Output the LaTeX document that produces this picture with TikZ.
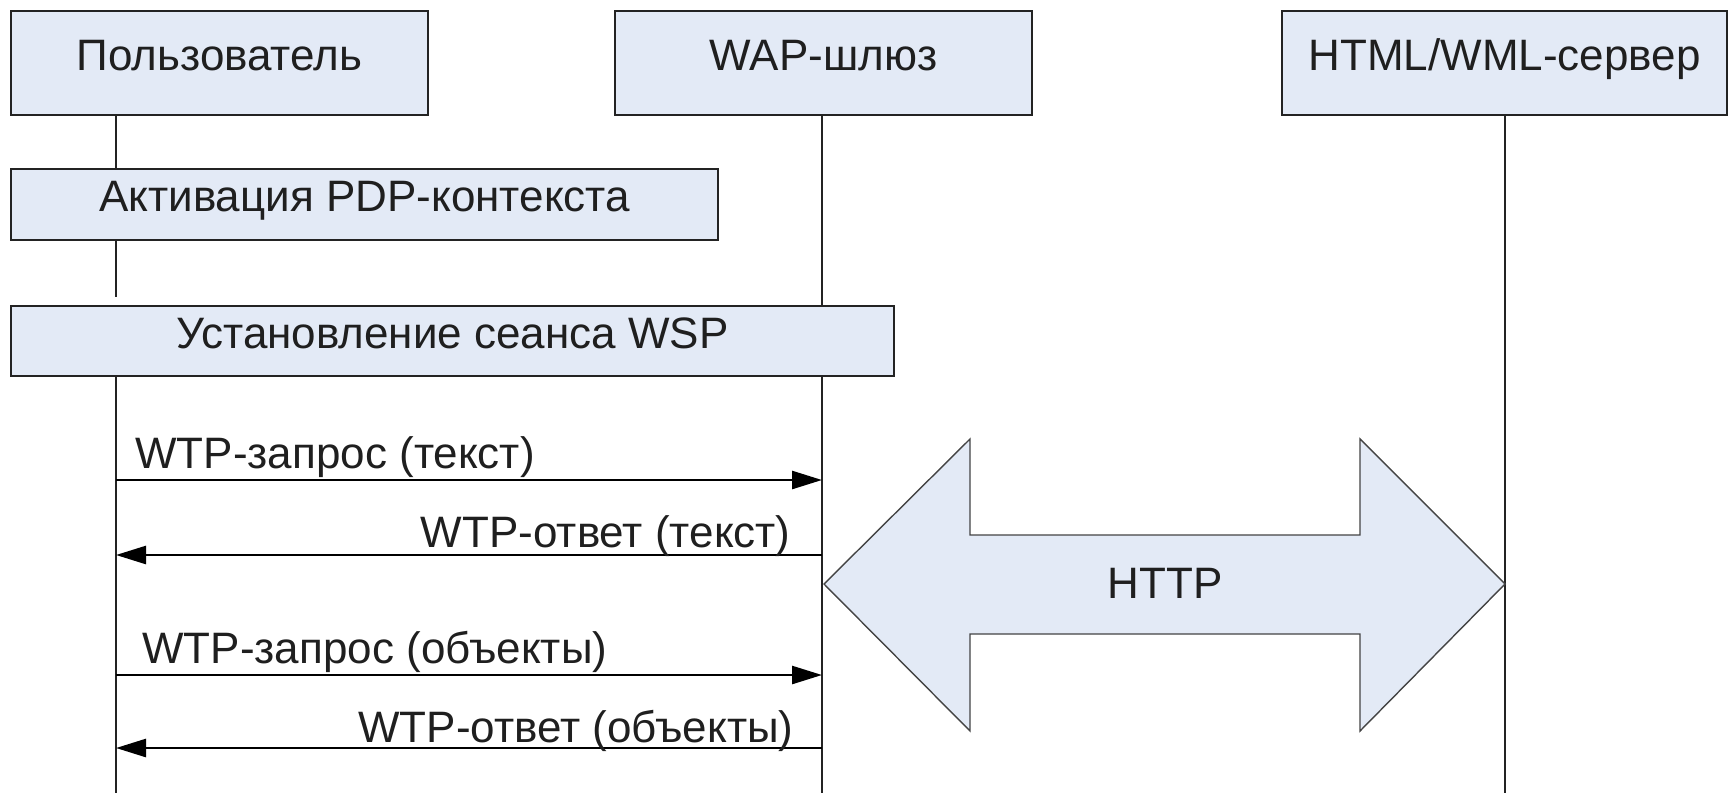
\documentclass[tikz,border=0pt]{standalone}
\usepackage{fontspec}
\setmainfont{Liberation Sans}
\usetikzlibrary{arrows.meta}
\definecolor{boxfill}{RGB}{227,234,246}
\definecolor{edge}{RGB}{35,35,35}
\begin{document}
\begin{tikzpicture}[x=0.5pt,y=-0.5pt,
  every node/.style={font=\fontsize{22}{26}\selectfont, text=black!88},
  actor/.style={draw=edge, line width=1.2pt, fill=boxfill, minimum height=52pt,
    inner sep=0pt, text height=0.72em, text depth=0pt},
  phase/.style={actor, minimum height=35pt},
  life/.style={draw=edge, line width=1pt},
  msg/.style={draw=black, line width=1.3pt, -{Triangle[length=15pt,width=9pt]}},
  lbl/.style={inner sep=0pt},
  bigarrow/.style={draw=edge!85, line width=0.7pt, fill=boxfill}
]
\useasboundingbox (0,0) rectangle (1729,793);

% participants
\node[actor, minimum width=208.5pt] (user) at (219.5,63) {Пользователь};
\node[actor, minimum width=208.5pt] (wap)  at (823.5,63) {WAP-шлюз};
\node[actor, minimum width=222.5pt] (srv)  at (1504.5,63) {HTML/WML-сервер};

% phases
\node[phase, minimum width=353.5pt, minimum height=35.5pt] (pdp) at (364.5,204.5) {Активация PDP-контекста};
\node[phase, minimum width=441.5pt] (wsp) at (452.5,341) {Установление сеанса WSP};

% lifeline positions
\coordinate (uX) at (116,0);
\coordinate (wX) at (822,0);
\coordinate (uGap) at (116,297);
\coordinate (uEnd) at (116,793);
\coordinate (wEnd) at (822,793);
\coordinate (sEnd) at (1505,793);

\draw[life] (user.south -| uX) -- (pdp.north -| uX);
\draw[life] (pdp.south -| uX) -- (uGap);
\draw[life] (wsp.south -| uX) -- (uEnd);
\draw[life] (wap.south -| wX) -- (wsp.north -| wX);
\draw[life] (wsp.south -| wX) -- (wEnd);
\draw[life] (srv.south -| sEnd) -- (sEnd);

% messages
\coordinate (m1u) at (116,480); \coordinate (m1w) at (822,480);
\coordinate (m2u) at (116,555); \coordinate (m2w) at (822,555);
\coordinate (m3u) at (116,675); \coordinate (m3w) at (822,675);
\coordinate (m4u) at (116,748); \coordinate (m4w) at (822,748);

\draw[msg] (m1u) -- (m1w);
\draw[msg] (m2w) -- (m2u);
\draw[msg] (m3u) -- (m3w);
\draw[msg] (m4w) -- (m4u);

\node[lbl, anchor=base west] (l1) at (135,468) {WTP-запрос (текст)};
\node[lbl, anchor=base east] (l2) at (791,547) {WTP-ответ (текст)};
\node[lbl, anchor=base west] (l3) at (142,663) {WTP-запрос (объекты)};
\node[lbl, anchor=base east] (l4) at (794,742) {WTP-ответ (объекты)};

% HTTP exchange between gateway and server
\draw[bigarrow] (824,584) -- (970,439) -- (970,535) -- (1360,535) -- (1360,439)
  -- (1505,584) -- (1360,731) -- (1360,634) -- (970,634) -- (970,731) -- cycle;
\node (http) at (1165,583) {HTTP};
\end{tikzpicture}
\end{document}
